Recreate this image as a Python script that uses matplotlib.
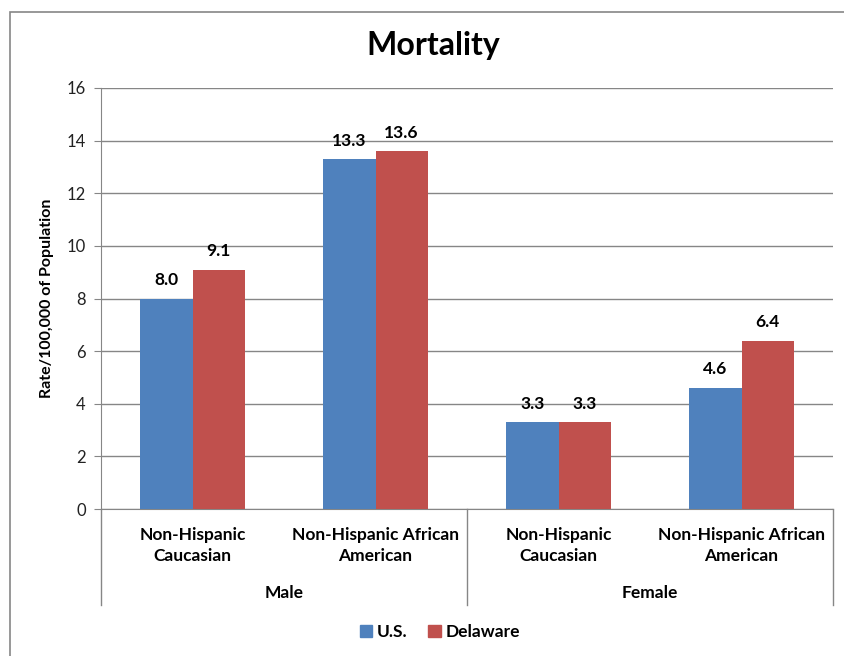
import matplotlib.pyplot as plt
from matplotlib.patches import Patch, Rectangle
import matplotlib.transforms as mtransforms

plt.rcParams['font.family'] = ['Lato', 'DejaVu Sans']

# Data
categories = ["Non-Hispanic\nCaucasian", "Non-Hispanic African\nAmerican",
              "Non-Hispanic\nCaucasian", "Non-Hispanic African\nAmerican"]
groups = ["Male", "Female"]
us_values = [8.0, 13.3, 3.3, 4.6]
delaware_values = [9.1, 13.6, 3.3, 6.4]
y_ticks = [0, 2, 4, 6, 8, 10, 12, 14, 16]

blue = "#4F81BD"
red = "#C0504D"
grey = "#868686"

W, H = 844, 656
fig = plt.figure(figsize=(W / 100, H / 100), dpi=100)

# outer chart border (left/top visible, rest goes past the edge)
fig.patches.append(Rectangle((10 / W, -0.1), 1.2, 1 - 12 / H + 0.1,
                             transform=fig.transFigure, fill=False,
                             edgecolor=grey, linewidth=1.2))

ax = fig.add_axes([101 / W, 1 - 509 / H, (833 - 101) / W, (509 - 88) / H])

x = list(range(len(categories)))
bw = 0.285
ax.bar([i - bw / 2 for i in x], us_values, bw, color=blue, zorder=3, label="U.S.")
ax.bar([i + bw / 2 for i in x], delaware_values, bw, color=red, zorder=3, label="Delaware")

for i in x:
    ax.text(i - bw / 2, us_values[i] + 0.4, f"{us_values[i]:.1f}", ha="center",
            va="bottom", fontsize=12.5, fontweight="bold")
    ax.text(i + bw / 2, delaware_values[i] + 0.4, f"{delaware_values[i]:.1f}",
            ha="center", va="bottom", fontsize=12.5, fontweight="bold")

ax.set_xlim(-0.5, 3.5)
ax.set_ylim(0, 16)
ax.set_yticks(y_ticks)
ax.tick_params(axis="y", labelsize=12, length=5, color=grey, pad=6, labelcolor="#222222")
ax.set_xticks([])
ax.yaxis.grid(True, color=grey, linewidth=1, zorder=0)
for s in ["top", "right"]:
    ax.spines[s].set_visible(False)
ax.spines["left"].set_color(grey)
ax.spines["bottom"].set_color(grey)

ax.set_ylabel("Rate/100,000 of Population", fontsize=11.5, fontweight="bold", labelpad=9)

trans = mtransforms.blended_transform_factory(ax.transData, ax.transAxes)
for i, c in enumerate(categories):
    ax.text(i, -0.086, c, transform=trans, ha="center", va="center",
            fontsize=12.5, fontweight="bold", linespacing=1.4)
for g, name in enumerate(groups):
    ax.text(2 * g + 0.5, -0.2, name, transform=trans, ha="center", va="center",
            fontsize=12.5, fontweight="bold")
for xs in [-0.5, 1.5, 3.5]:
    ax.plot([xs, xs], [0, -0.228], transform=trans, color=grey, linewidth=1,
            clip_on=False)

fig.text(433 / W, 1 - 45 / H, "Mortality", ha="center", va="center",
         fontsize=23, fontweight="bold")

handles = [Patch(color=blue, label="U.S."), Patch(color=red, label="Delaware")]
fig.legend(handles=handles, loc="center", bbox_to_anchor=(440 / W, 1 - 632 / H),
           ncol=2, frameon=False, prop={"weight": "bold", "size": 12.5},
           handlelength=0.7, handleheight=0.7, handletextpad=0.3, columnspacing=1.2)

fig.savefig("out.png", dpi=100)
